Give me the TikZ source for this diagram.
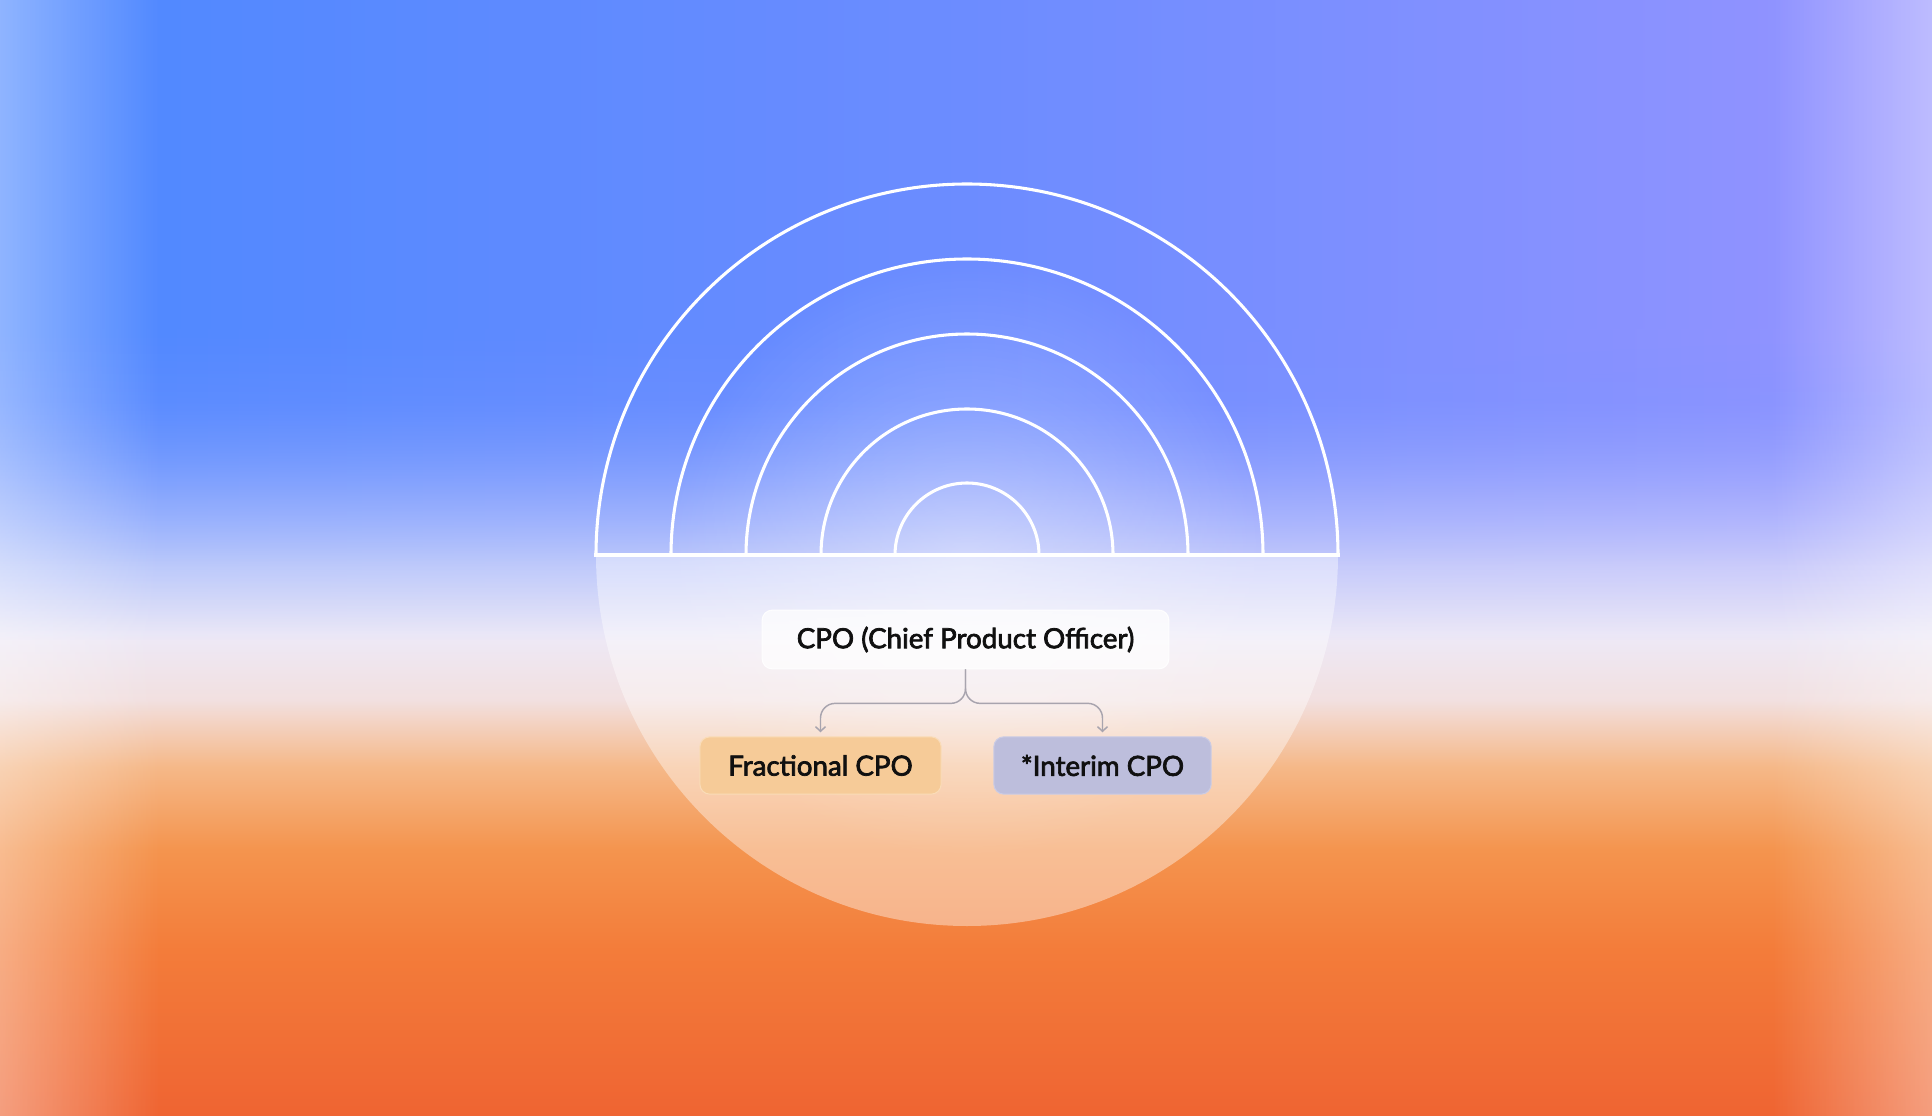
\documentclass[tikz,border=0pt]{standalone}
\usepackage{fontspec}
\newfontfamily\labelfamily{Lato}[FakeBold=2.6]
\usetikzlibrary{arrows.meta,fadings}

\definecolor{ink}{HTML}{101010}
\definecolor{tintblue}{HTML}{4C88FF}
\definecolor{tintmid}{HTML}{6C8CFF}
\definecolor{tintpurple}{HTML}{9794FF}
\definecolor{fracfill}{HTML}{F6CB98}
\definecolor{fracline}{HTML}{FADCB8}
\definecolor{interimfill}{HTML}{BDBEDC}
\definecolor{interimline}{HTML}{CBCCE5}
\definecolor{linkgray}{HTML}{A8A4AE}
% background stops, top to bottom
\definecolor{bgA}{HTML}{6A8CFF}
\definecolor{bgB}{HTML}{7090FF}
\definecolor{bgC}{HTML}{7C98FF}
\definecolor{bgD}{HTML}{BCC4FD}
\definecolor{bgE}{HTML}{DEDEF9}
\definecolor{bgF}{HTML}{EDE9F7}
\definecolor{bgG}{HTML}{F2E0E0}
\definecolor{bgH}{HTML}{F5B888}
\definecolor{bgI}{HTML}{F4944E}
\definecolor{bgJ}{HTML}{F37C3A}
\definecolor{bgK}{HTML}{EF6432}

\pgfdeclareverticalshading{bgvert}{100bp}{color(0bp)=(bgK); color(25bp)=(bgK);
  color(32.44bp)=(bgJ); color(36.92bp)=(bgI); color(40.64bp)=(bgH);
  color(43.64bp)=(bgG); color(46.64bp)=(bgF); color(49.6bp)=(bgE);
  color(52.6bp)=(bgD); color(57.08bp)=(bgC); color(66.04bp)=(bgB);
  color(75bp)=(bgA); color(100bp)=(bgA)}

\tikzfading[name=tintfade, top color=transparent!0, bottom color=transparent!100]
\tikzfading[name=edgeleft, left color=transparent!0, right color=transparent!100]
\tikzfading[name=edgeright, left color=transparent!100, right color=transparent!0]
\tikzfading[name=glowfade, inner color=transparent!0, outer color=transparent!100]

\newcommand\labeltext{\labelfamily\fontsize{20.8}{24}\selectfont}

\tikzset{every picture/.style={line width=0.75pt}}
\tikzset{
  ring/.style={draw=white, line width=2.3pt},
  box/.style={rounded corners=7.5pt, minimum height=43pt, inner sep=0pt,
    line width=0.8pt, text=ink, text opacity=1, font=\labeltext},
  cpobox/.style={box, fill=white, fill opacity=0.7, draw=white, draw opacity=0.9,
    minimum width=305pt, minimum height=44pt},
  fracbox/.style={box, fill=fracfill, draw=fracline, minimum width=181pt},
  interimbox/.style={box, fill=interimfill, draw=interimline, minimum width=163pt},
  link/.style={draw=linkgray, line width=1.1pt, rounded corners=11pt, shorten >=3pt,
    -{Straight Barb[length=3.5pt,width=7.5pt]}}
}

\begin{document}
\begin{tikzpicture}[x=0.75pt,y=0.75pt,yscale=-1,xscale=1]
\useasboundingbox (0,0) rectangle (1932,1116);

%Background
\shade[shading=bgvert] (-20,0) rectangle (1952,1116);
\shade[left color=tintblue, right color=tintpurple, middle color=tintmid] (-20,-20) rectangle (1952,330);
\shade[left color=tintblue, right color=tintpurple, middle color=tintmid, path fading=tintfade] (-20,330) rectangle (1952,640);
\fill[white, opacity=0.42, path fading=edgeleft] (-20,-20) rectangle (160,1136);
\fill[white, opacity=0.42, path fading=edgeright] (1772,-20) rectangle (1952,1136);

%Glow behind the rings
\fill[white, opacity=0.35, path fading=glowfade] (967,560) circle (300);

%Lower half disc
\fill[white, fill opacity=0.4] (596,555) arc[start angle=180, end angle=0, radius=371] -- cycle;

%Rings
\foreach \r in {371,296,221,146,72}
  \draw[ring] (967-\r,555) arc[start angle=180, end angle=360, radius=\r];
\draw[draw=white, line width=3pt] (594,555) -- (1340,555);

% Text Node
\node[cpobox] (cpo) at (965.5,639.5) {CPO (Chief Product Officer)};
% Text Node
\node[fracbox] (frac) at (820.5,765.5) {Fractional CPO};
% Text Node
\node[interimbox] (interim) at (1102.5,765.5) {*Interim CPO};

%Connectors
\draw[link] (cpo.south) -- ++(0,34) -| (frac.north);
\draw[link] (cpo.south) -- ++(0,34) -| (interim.north);

\end{tikzpicture}
\end{document}
